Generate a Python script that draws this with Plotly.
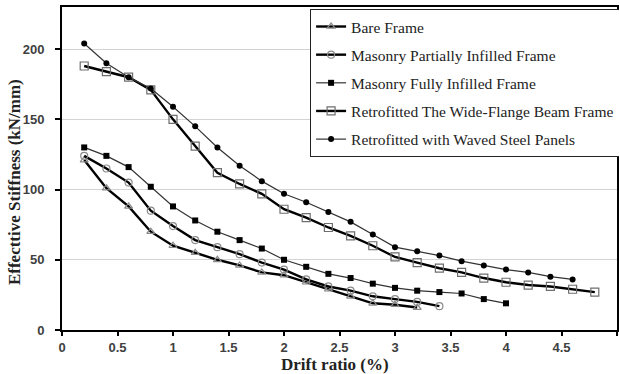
import plotly.graph_objects as go

# ---- data ----
drift_bare = [0.2, 0.4, 0.6, 0.8, 1.0, 1.2, 1.4, 1.6, 1.8, 2.0, 2.2, 2.4, 2.6, 2.8, 3.0, 3.2]
bare_frame = [121, 101, 88, 70, 60, 55, 50, 46, 41, 39, 34, 29, 24, 19, 18, 16]

drift_partial = [0.2, 0.4, 0.6, 0.8, 1.0, 1.2, 1.4, 1.6, 1.8, 2.0, 2.2, 2.4, 2.6, 2.8, 3.0, 3.2, 3.4]
partially_infilled = [124, 115, 105, 85, 74, 64, 59, 54, 48, 43, 36, 31, 28, 24, 22, 20, 17]

drift_full = [0.2, 0.4, 0.6, 0.8, 1.0, 1.2, 1.4, 1.6, 1.8, 2.0, 2.2, 2.4, 2.6, 2.8, 3.0, 3.2, 3.4, 3.6, 3.8, 4.0]
fully_infilled = [130, 124, 116, 102, 88, 78, 70, 64, 58, 50, 45, 40, 37, 33, 30, 28, 27, 26, 22, 19]

drift_wide = [0.2, 0.4, 0.6, 0.8, 1.0, 1.2, 1.4, 1.6, 1.8, 2.0, 2.2, 2.4, 2.6, 2.8, 3.0, 3.2, 3.4, 3.6, 3.8, 4.0, 4.2, 4.4, 4.6, 4.8]
wide_flange = [188, 184, 180, 171, 150, 131, 112, 104, 97, 86, 80, 73, 67, 60, 52, 48, 44, 41, 37, 34, 32, 31, 29, 27]

drift_waved = [0.2, 0.4, 0.6, 0.8, 1.0, 1.2, 1.4, 1.6, 1.8, 2.0, 2.2, 2.4, 2.6, 2.8, 3.0, 3.2, 3.4, 3.6, 3.8, 4.0, 4.2, 4.4, 4.6]
waved_panels = [204, 190, 180, 172, 159, 145, 130, 117, 106, 97, 91, 84, 77, 68, 59, 56, 53, 49, 46, 43, 41, 38, 36]

series_names = [
    "Bare Frame",
    "Masonry Partially Infilled Frame",
    "Masonry Fully Infilled Frame",
    "Retrofitted The Wide-Flange Beam Frame",
    "Retrofitted with Waved Steel Panels",
]

x_ticks = [0, 0.5, 1, 1.5, 2, 2.5, 3, 3.5, 4, 4.5, 5]
x_tick_labels = ["0", "0.5", "1", "1.5", "2", "2.5", "3", "3.5", "4", "4.5", "5"]
y_ticks = [0, 50, 100, 150, 200]

x_title = "Drift ratio (%)"
y_title = "Effecttive Stiffness (kN/mm)"

fig = go.Figure()

styles = [
    (drift_bare, bare_frame, dict(color="black", width=2.4), dict(symbol="triangle-up-open", size=7, color="#8a8a8a", line=dict(width=1.2))),
    (drift_partial, partially_infilled, dict(color="black", width=2.4), dict(symbol="circle-open", size=7, color="#8a8a8a", line=dict(width=1.2))),
    (drift_full, fully_infilled, dict(color="#333333", width=1.2), dict(symbol="square", size=6, color="black")),
    (drift_wide, wide_flange, dict(color="black", width=2.4), dict(symbol="square-open", size=8, color="#6e6e6e", line=dict(width=1.2))),
    (drift_waved, waved_panels, dict(color="#333333", width=1.2), dict(symbol="circle", size=6, color="black")),
]

for i, (xs, ys, ln, mk) in enumerate(styles):
    fig.add_trace(go.Scatter(
        x=xs, y=ys, mode="lines+markers", name=series_names[i],
        line=ln, marker=mk, legendgroup=f"g{i}",
    ))

serif = "Liberation Serif, Times New Roman, serif"
sans = "Liberation Sans, Arial, sans-serif"

fig.update_layout(
    width=619, height=374,
    margin=dict(l=62, r=2, t=7, b=44, autoexpand=False),
    paper_bgcolor="white", plot_bgcolor="white",
    showlegend=True,
    legend=dict(
        x=0.447, y=0.994, xanchor="left", yanchor="top",
        bgcolor="white", bordercolor="#222222", borderwidth=1,
        font=dict(family=serif, size=15.5, color="#222222"),
        itemwidth=30, tracegroupgap=5, traceorder="grouped",
    ),
    xaxis=dict(
        range=[0, 5], tickvals=x_ticks, ticktext=x_tick_labels,
        showgrid=False, zeroline=False, automargin=False,
        showline=True, linecolor="black", linewidth=2, mirror=True,
        ticks="outside", ticklen=4, tickcolor="black", tickwidth=1.5,
        tickfont=dict(family=sans, size=13, color="#404040", weight="bold"),
    ),
    yaxis=dict(
        range=[0, 230], tickvals=y_ticks,
        showgrid=True, gridcolor="#d3d3d3", gridwidth=1, zeroline=False, automargin=False,
        showline=True, linecolor="black", linewidth=2, mirror=True,
        ticks="outside", ticklen=5, tickcolor="black", tickwidth=1.5,
        tickfont=dict(family=sans, size=13, color="#404040", weight="bold"),
        ticklabelstandoff=8,
    ),
    annotations=[
        dict(text=x_title, xref="paper", yref="paper", x=0.492, y=-0.107,
             xanchor="center", yanchor="middle", showarrow=False,
             font=dict(family=serif, size=17, color="#222222", weight="bold")),
        dict(text=y_title, xref="paper", yref="paper", x=-0.0865, y=0.458,
             xanchor="center", yanchor="middle", showarrow=False, textangle=-90,
             font=dict(family=serif, size=17, color="#222222", weight="bold")),
    ],
)

fig.write_html("out.html", config={"displayModeBar": False},
               post_script="document.body.style.margin='0';")
